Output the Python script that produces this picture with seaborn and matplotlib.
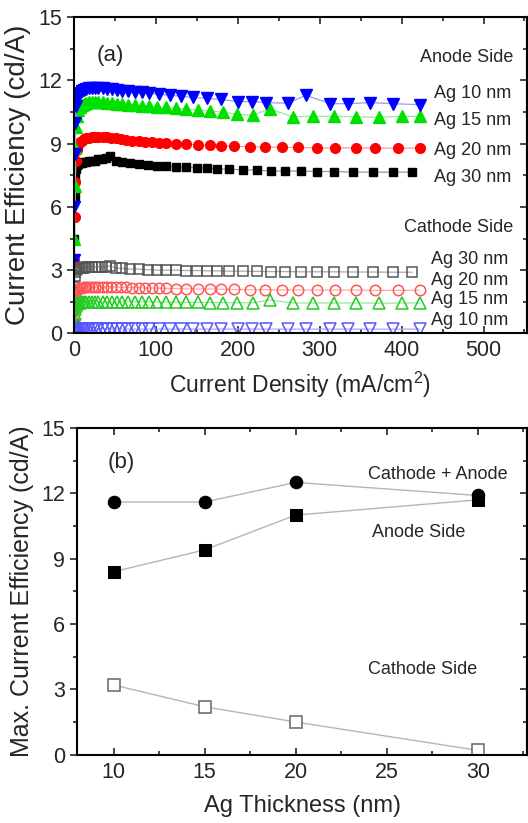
import matplotlib
matplotlib.use("Agg")
import matplotlib.pyplot as plt
import seaborn as sns
from matplotlib.ticker import MultipleLocator

# ---- panel (a): current efficiency vs current density ----
x10 = [0.2, 0.4, 0.7, 1.1, 1.7, 2.5, 3.5, 5, 7, 9.5, 12, 15, 18.5, 22, 26, 30, 35, 40, 46, 52,
       59, 66, 74, 83, 92, 104, 117, 131, 145, 162, 180, 200, 217, 234, 261, 283, 313, 335, 361, 389, 422]
x15 = [0.2, 0.4, 0.7, 1.1, 1.7, 2.5, 3.5, 5, 7, 9.5, 12, 15, 18.5, 22, 26, 30, 35, 40, 46, 52,
       59, 66, 74, 83, 92, 102, 113, 125, 137, 151, 166, 182, 199, 218, 239, 267, 292, 317, 344, 372, 401, 422]
x20 = [0.2, 0.4, 0.7, 1.1, 1.7, 2.5, 3.5, 5, 7, 9.5, 12, 15, 18.5, 22, 26, 30, 35, 40, 45, 51, 57, 64,
       71, 79, 87, 95, 104, 113, 125, 137, 151, 166, 180, 196, 215, 233, 254, 274, 297, 319, 344, 368, 396, 422]
x30 = [0.2, 0.4, 0.7, 1.1, 1.7, 2.5, 3.5, 5, 7, 9.5, 12, 15, 18.5, 22, 26, 30, 34.5, 39, 44, 51, 59, 68,
       79, 90, 101, 113, 125, 137, 150, 162, 175, 189, 206, 223, 241, 258, 277, 297, 318, 341, 365, 389, 413]

anode10 = [1.0, 3.5, 6.0, 8.5, 10.0, 10.8, 11.1, 11.3, 11.4, 11.5, 11.55, 11.6, 11.62, 11.65, 11.65, 11.65,
           11.62, 11.6, 11.58, 11.55, 11.52, 11.5, 11.47, 11.44, 11.4, 11.35, 11.3, 11.25, 11.2, 11.15, 11.1,
           11.0, 11.0, 10.95, 10.92, 11.3, 10.9, 10.9, 10.95, 10.9, 10.85]
anode15 = [0.5, 2.0, 4.5, 7.0, 8.8, 9.8, 10.3, 10.6, 10.75, 10.85, 10.9, 10.95, 11.0, 11.0, 11.0, 11.0,
           10.98, 10.95, 10.92, 10.9, 10.88, 10.85, 10.82, 10.8, 10.78, 10.75, 10.72, 10.68, 10.65, 10.6,
           10.55, 10.5, 10.4, 10.35, 10.65, 10.28, 10.3, 10.3, 10.28, 10.25, 10.3, 10.3]
anode20 = [0.3, 1.5, 3.5, 5.5, 7.2, 8.2, 8.7, 8.95, 9.1, 9.15, 9.2, 9.25, 9.28, 9.3, 9.32, 9.33, 9.33, 9.3,
           9.28, 9.25, 9.2, 9.18, 9.15, 9.12, 9.1, 9.08, 9.05, 9.02, 9.0, 8.98, 8.95, 8.92, 8.9, 8.88, 8.85,
           8.85, 8.82, 8.82, 8.8, 8.8, 8.8, 8.8, 8.78, 8.8]
anode30 = [0.5, 2.0, 4.5, 6.5, 7.4, 7.8, 8.0, 8.05, 8.1, 8.1, 8.15, 8.15, 8.2, 8.2, 8.2, 8.25, 8.25, 8.3,
           8.4, 8.2, 8.15, 8.1, 8.05, 8.0, 7.95, 7.95, 7.9, 7.9, 7.85, 7.85, 7.8, 7.8, 7.75, 7.75, 7.7, 7.7,
           7.7, 7.68, 7.68, 7.65, 7.65, 7.65, 7.65]

cathode10 = [0.02, 0.05, 0.08, 0.12, 0.15, 0.17, 0.18, 0.19, 0.2, 0.2, 0.2, 0.2, 0.2, 0.2, 0.2, 0.2, 0.2,
             0.2, 0.2, 0.2, 0.2, 0.2, 0.2, 0.2, 0.2, 0.2, 0.2, 0.2, 0.2, 0.2, 0.2, 0.2, 0.2, 0.2, 0.2,
             0.2, 0.2, 0.2, 0.2, 0.2, 0.2]
cathode15 = [0.1, 0.3, 0.6, 0.9, 1.15, 1.3, 1.38, 1.42, 1.45, 1.47, 1.48, 1.5, 1.5, 1.5, 1.5, 1.5, 1.5,
             1.5, 1.5, 1.5, 1.5, 1.5, 1.5, 1.5, 1.49, 1.49, 1.48, 1.48, 1.47, 1.47, 1.46, 1.46, 1.45,
             1.45, 1.58, 1.44, 1.44, 1.44, 1.44, 1.43, 1.44, 1.44]
cathode20 = [0.2, 0.6, 1.2, 1.6, 1.85, 2.0, 2.08, 2.12, 2.15, 2.17, 2.18, 2.2, 2.2, 2.2, 2.2, 2.2, 2.2,
             2.2, 2.2, 2.2, 2.18, 2.18, 2.17, 2.17, 2.15, 2.15, 2.14, 2.13, 2.12, 2.11, 2.1, 2.1, 2.09,
             2.08, 2.07, 2.07, 2.06, 2.06, 2.05, 2.05, 2.05, 2.04, 2.04, 2.04]
cathode30 = [0.3, 1.2, 2.2, 2.7, 2.9, 3.0, 3.05, 3.1, 3.1, 3.12, 3.12, 3.15, 3.15, 3.15, 3.15, 3.15, 3.15,
             3.15, 3.2, 3.1, 3.08, 3.05, 3.05, 3.02, 3.0, 3.0, 3.0, 2.98, 2.98, 2.97, 2.96, 2.95, 2.95,
             2.94, 2.93, 2.93, 2.92, 2.92, 2.92, 2.91, 2.91, 2.9, 2.9]

# ---- panel (b): max efficiency vs Ag thickness ----
thickness = [10, 15, 20, 30]
max_total = [11.6, 11.6, 12.5, 11.9]
max_anode = [8.4, 9.4, 11.0, 11.7]
max_cathode = [3.2, 2.2, 1.5, 0.2]

sns.set_style("ticks")
plt.rcParams['font.family'] = ['Liberation Sans', 'DejaVu Sans']
plt.rcParams['mathtext.fontset'] = 'custom'
plt.rcParams['mathtext.rm'] = 'Liberation Sans'

fig = plt.figure(figsize=(5.28, 8.23), dpi=100)
ax1 = fig.add_axes([0.140, 0.595, 0.858, 0.384])
ax2 = fig.add_axes([0.146, 0.083, 0.852, 0.397])


def series(ax, x, y, col, linecol, marker, ms, filled=True):
    sns.lineplot(x=x, y=y, ax=ax, color=linecol, linewidth=0.9, marker=marker,
                 markersize=ms, markerfacecolor=col if filled else 'none',
                 markeredgecolor=col, markeredgewidth=1.0 if filled else 1.1)


# anode side (filled)
series(ax1, x30, anode30, 'black', '#9a9a9a', 's', 6)
series(ax1, x20, anode20, '#ff0000', '#ff9a9a', 'o', 7)
series(ax1, x15, anode15, '#00e000', '#90ee90', '^', 8)
series(ax1, x10, anode10, '#0000ff', '#9a9aff', 'v', 8)
# cathode side (open)
series(ax1, x30, cathode30, '#555555', '#aaaaaa', 's', 6.5, filled=False)
series(ax1, x20, cathode20, '#ff5555', '#ffaaaa', 'o', 7.5, filled=False)
series(ax1, x15, cathode15, '#22cc22', '#99e699', '^', 8, filled=False)
series(ax1, x10, cathode10, '#5555ff', '#aaaaff', 'v', 8, filled=False)

ax1.set_xlim(0, 553)
ax1.set_ylim(0, 15)
ax1.set_xlabel('Current Density (mA/cm$^2$)', fontsize=16.5, labelpad=6)
ax1.set_ylabel('Current Efficiency (cd/A)', fontsize=20, labelpad=5)
ax1.xaxis.set_major_locator(MultipleLocator(100))
ax1.xaxis.set_minor_locator(MultipleLocator(50))
ax1.yaxis.set_major_locator(MultipleLocator(3))
ax1.yaxis.set_minor_locator(MultipleLocator(1.5))

ax1.text(28, 13.2, '(a)', fontsize=16, va='center')
ax1.text(536, 13.1, 'Anode Side', fontsize=13, ha='right', va='center')
for lab, yy in zip(['Ag 10 nm', 'Ag 15 nm', 'Ag 20 nm', 'Ag 30 nm'], [11.4, 10.1, 8.7, 7.4]):
    ax1.text(440, yy, lab, fontsize=13, va='center')
ax1.text(536, 5.0, 'Cathode Side', fontsize=13, ha='right', va='center')
for lab, yy in zip(['Ag 30 nm', 'Ag 20 nm', 'Ag 15 nm', 'Ag 10 nm'], [3.5, 2.5, 1.6, 0.6]):
    ax1.text(436, yy, lab, fontsize=13, va='center')

# panel b
sns.lineplot(x=thickness, y=max_total, ax=ax2, color='#b5b5b5', linewidth=1.0, marker='o',
             markersize=9, markerfacecolor='black', markeredgecolor='black')
sns.lineplot(x=thickness, y=max_anode, ax=ax2, color='#b5b5b5', linewidth=1.0, marker='s',
             markersize=8, markerfacecolor='black', markeredgecolor='black')
sns.lineplot(x=thickness, y=max_cathode, ax=ax2, color='#b5b5b5', linewidth=1.0, marker='s',
             markersize=8, markerfacecolor='white', markeredgecolor='#666666', markeredgewidth=1.1)

ax2.set_xlim(8, 32.7)
ax2.set_ylim(0, 15)
ax2.set_xlabel('Ag Thickness (nm)', fontsize=17, labelpad=9)
ax2.set_ylabel('Max. Current Efficiency (cd/A)', fontsize=18, labelpad=5)
ax2.xaxis.set_major_locator(MultipleLocator(5))
ax2.xaxis.set_minor_locator(MultipleLocator(2.5))
ax2.yaxis.set_major_locator(MultipleLocator(3))
ax2.yaxis.set_minor_locator(MultipleLocator(1.5))

ax2.text(9.7, 13.4, '(b)', fontsize=16, va='center')
ax2.text(24.0, 12.85, 'Cathode + Anode', fontsize=13, va='center')
ax2.text(24.2, 10.2, 'Anode Side', fontsize=13, va='center')
ax2.text(24.0, 3.9, 'Cathode Side', fontsize=13, va='center')

for ax in (ax1, ax2):
    for sp in ax.spines.values():
        sp.set_linewidth(1.5)
        sp.set_color('black')
        sp.set_visible(True)
    ax.tick_params(axis='x', which='both', direction='in', top=True, bottom=True,
                   labelsize=15.5, width=1.2, pad=5)
    ax.tick_params(axis='y', which='both', direction='out', left=True, right=False,
                   labelsize=15.5, width=1.2)
    ax.tick_params(which='major', length=5)
    ax.tick_params(which='minor', length=3)
    sec = ax.secondary_yaxis('right')
    sec.yaxis.set_major_locator(MultipleLocator(3))
    sec.yaxis.set_minor_locator(MultipleLocator(1.5))
    sec.tick_params(which='both', direction='in', labelright=False, width=1.2)
    sec.tick_params(which='major', length=5)
    sec.tick_params(which='minor', length=3)
    sec.spines['right'].set_linewidth(1.5)

fig.savefig('out.png', dpi=100)
